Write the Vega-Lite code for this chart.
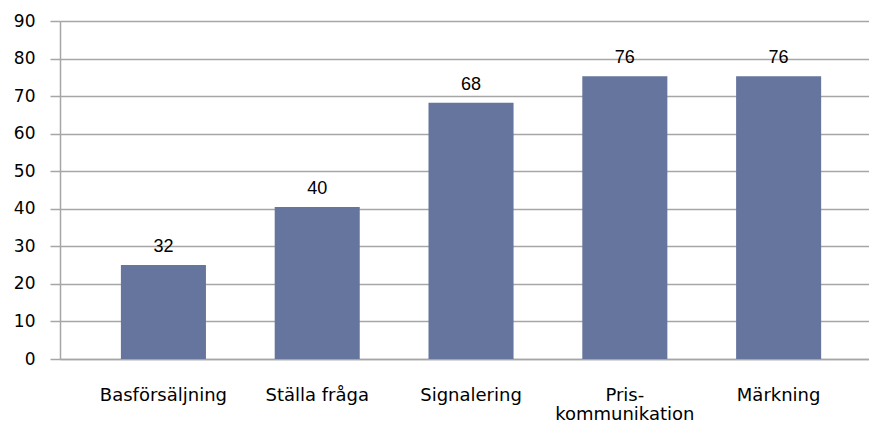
{
  "$schema": "https://vega.github.io/schema/vega-lite/v6.json",
  "width": 809,
  "height": 338,
  "autosize": {"type": "none"},
  "padding": {"left": 60, "top": 21, "right": 0, "bottom": 69},
  "background": "white",
  "config": {"view": {"stroke": null}},
  "data": {
    "values": [
      {"kategori": "Basförsäljning", "varde": 25, "etikett": "32"},
      {"kategori": "Ställa fråga", "varde": 40.5, "etikett": "40"},
      {"kategori": "Signalering", "varde": 68.2, "etikett": "68"},
      {"kategori": "Pris-kommunikation", "varde": 75.3, "etikett": "76"},
      {"kategori": "Märkning", "varde": 75.3, "etikett": "76"}
    ]
  },
  "encoding": {
    "x": {
      "field": "kategori",
      "type": "nominal",
      "sort": null,
      "scale": {"paddingInner": 0.447, "paddingOuter": 0.3535, "align": 0.56},
      "axis": {
        "title": null,
        "labelAngle": 0,
        "ticks": false,
        "domain": true,
        "domainColor": "#a6a6a6",
        "domainWidth": 1.5,
        "labelFont": "DejaVu Sans",
        "labelFontSize": 18,
        "labelColor": "#000000",
        "labelPadding": 27,
        "labelLineHeight": 19,
        "labelExpr": "datum.value == 'Pris-kommunikation' ? ['Pris-', 'kommunikation'] : datum.value"
      }
    },
    "y": {
      "field": "varde",
      "type": "quantitative",
      "scale": {"domain": [0, 90]},
      "axis": {
        "title": null,
        "values": [0, 10, 20, 30, 40, 50, 60, 70, 80, 90],
        "grid": true,
        "gridColor": "#a6a6a6",
        "gridWidth": 1.5,
        "domainColor": "#a6a6a6",
        "domainWidth": 1.5,
        "tickColor": "#a6a6a6",
        "tickWidth": 1.5,
        "tickSize": 10,
        "labelFont": "DejaVu Sans",
        "labelFontSize": 17,
        "labelColor": "#000000",
        "labelPadding": 15
      }
    }
  },
  "layer": [
    {"mark": {"type": "bar", "color": "#65759d"}},
    {
      "mark": {"type": "text", "baseline": "bottom", "dy": -9, "font": "Liberation Sans", "fontSize": 18, "color": "#000000"},
      "encoding": {"text": {"field": "etikett"}}
    }
  ]
}
